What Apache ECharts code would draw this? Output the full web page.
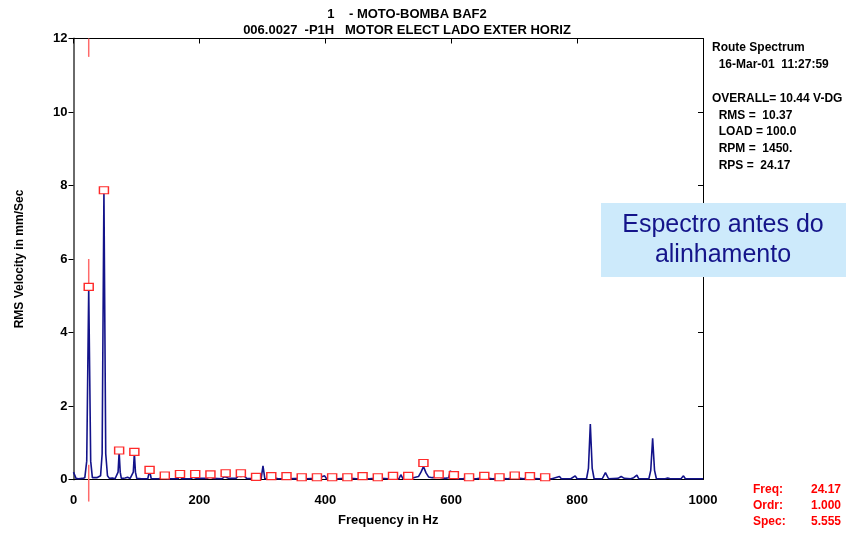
<!DOCTYPE html>
<html>
<head>
<meta charset="utf-8">
<script src="https://cdn.jsdelivr.net/npm/echarts@6/dist/echarts.min.js"></script>
<style>
  html, body { margin: 0; padding: 0; background: #fff; }
  #spectrum { width: 859px; height: 533px; }
</style>
</head>
<body>
<div id="spectrum"></div>
<script>
// espectro [Hz, mm/s]
var spectrum = [
    [0, 0.2], [2, 0.22], [4, 0.03], [8, 0.02], [14, 0.03], [18, 0.05],
    [21, 0.5], [24.17, 5.2], [27.3, 0.5], [30, 0.05],
    [33, 0.08], [37, 0.05], [40, 0.1], [43, 0.1],
    [45.5, 0.7], [48.34, 7.85], [51.2, 0.7], [54, 0.1], [57, 0.03],
    [62, 0.04], [66, 0.02], [69, 0.03], [70.8, 0.2], [72.51, 0.75], [74.2, 0.2], [76, 0.03],
    [82, 0.04], [86, 0.06], [90, 0.03], [93, 0.03], [95, 0.2], [96.68, 0.72], [98.4, 0.2], [100.5, 0.03],
    [108, 0.02], [114, 0.02], [118, 0.02], [120.85, 0.25], [123.5, 0.02],
    [135, 0.02], [145, 0.06], [150, 0.02], [166, 0.02], [169, 0.1], [172, 0.02],
    [186, 0.02], [190, 0.06], [193, 0.1], [196, 0.03], [212, 0.03], [217, 0.08], [222, 0.03],
    [236, 0.02], [240, 0.08], [243, 0.1], [247, 0.03], [258, 0.03], [262, 0.1], [266, 0.08],
    [270, 0.12], [275, 0.03], [288, 0.02], [290, 0.05], [293, 0.02], [298, 0.02], [301, 0.37],
    [304, 0.02], [314, 0.02], [320, 0.04], [325, 0.02], [340, 0.02], [362, 0.03], [370, 0.02],
    [386, 0.03], [399, 0.1], [402, 0.02], [420, 0.02], [435, 0.04], [450, 0.02], [470, 0.02],
    [483, 0.04], [500, 0.02], [507, 0.03], [517, 0.02], [520, 0.13], [523, 0.03], [532, 0.03],
    [540, 0.05], [548, 0.08], [552, 0.2], [556, 0.35], [560, 0.18], [564, 0.07], [570, 0.05],
    [580, 0.07], [590, 0.03], [596, 0.05], [598.7, 0.24], [601, 0.05], [604, 0.08], [610, 0.02],
    [620, 0.02], [624, 0.1], [627, 0.02], [640, 0.02], [652, 0.05], [665, 0.02], [677, 0.03],
    [690, 0.02], [701, 0.05], [715, 0.02], [719, 0.04], [722, 0.15], [725, 0.03], [740, 0.02],
    [760, 0.02], [772, 0.08], [775, 0.02], [790, 0.02], [797, 0.1], [800, 0.02], [815, 0.02],
    [818, 0.3], [821, 1.51], [824, 0.3], [827, 0.02], [840, 0.02], [845, 0.19], [850, 0.02],
    [865, 0.03], [870, 0.08], [875, 0.03], [885, 0.02], [890, 0.05], [895, 0.12], [898, 0.02],
    [914, 0.02], [917, 0.25], [920, 1.12], [923, 0.25], [926, 0.02], [940, 0.02], [944, 0.04],
    [948, 0.02], [965, 0.02], [969, 0.1], [972, 0.02], [990, 0.02], [1000, 0.02]
];

// harmonicos de 1x RPM (24.17 Hz)
var harmFreq = [24.17, 48.34, 72.51, 96.68, 120.85, 145.02, 169.19, 193.36, 217.53, 241.7,
    265.87, 290.04, 314.21, 338.38, 362.55, 386.72, 410.89, 435.06, 459.23, 483.4,
    507.57, 531.74, 555.91, 580.08, 604.25, 628.42, 652.59, 676.76, 700.93, 725.1, 749.27];
var harmAmp = [5.24, 7.87, 0.79, 0.75, 0.26, 0.11, 0.15, 0.15, 0.14, 0.17,
    0.17, 0.07, 0.09, 0.09, 0.06, 0.06, 0.06, 0.06, 0.09, 0.06,
    0.1, 0.1, 0.45, 0.14, 0.12, 0.06, 0.1, 0.06, 0.11, 0.09, 0.06];

// cursor (Freq 24.17)
var cursorFreq = 24.17;
var cursorTop = [12, 11.5];
var cursorMid = [6, 5.24];
var cursorLow = [0.4, -0.6];

var titleLines = ['1    - MOTO-BOMBA BAF2', '006.0027  -P1H   MOTOR ELECT LADO EXTER HORIZ'];
var infoLines = ['Route Spectrum', '  16-Mar-01  11:27:59', '', 'OVERALL= 10.44 V-DG',
    '  RMS =  10.37', '  LOAD = 100.0', '  RPM =  1450.', '  RPS =  24.17'];
var cursorLabels = ['Freq:', 'Ordr:', 'Spec:'];
var cursorValues = ['24.17', '1.000', '5.555'];

var dom = document.getElementById('spectrum');
var chart = echarts.init(dom);

var font = '"Liberation Sans", Arial, sans-serif';
var harmData = [];
for (var i = 0; i < harmFreq.length; i++) {
    harmData.push([harmFreq[i], harmAmp[i]]);
}

var graphics = [];
// titulo
titleLines.forEach(function (t, k) {
    graphics.push({
        type: 'text',
        style: { text: t, x: 407, y: 14 + k * 16, font: 'bold 13px ' + font, fill: '#000',
            textAlign: 'center', textVerticalAlign: 'middle', align: 'center', verticalAlign: 'middle' }
    });
});
// info do lado direito
infoLines.forEach(function (t, k) {
    if (!t) return;
    graphics.push({
        type: 'text',
        style: { text: t, x: 712, y: 48 + k * 16.8, font: 'bold 12px ' + font, fill: '#000',
            textVerticalAlign: 'middle', verticalAlign: 'middle' }
    });
});
// cursor em vermelho
cursorLabels.forEach(function (t, k) {
    graphics.push({
        type: 'text',
        style: { text: t, x: 753, y: 490 + k * 16, font: 'bold 12px ' + font, fill: '#ff0000',
            textVerticalAlign: 'middle', verticalAlign: 'middle' }
    });
    graphics.push({
        type: 'text',
        style: { text: cursorValues[k], x: 841, y: 490 + k * 16, font: 'bold 12px ' + font, fill: '#ff0000',
            textAlign: 'right', align: 'right', textVerticalAlign: 'middle', verticalAlign: 'middle' }
    });
});
// caixa de nota
graphics.push({
    type: 'rect', z: 100,
    shape: { x: 601, y: 203, width: 245, height: 74 },
    style: { fill: '#cdeafb' }
});
graphics.push({
    type: 'text', z: 101,
    style: { text: 'Espectro antes do\nalinhamento', x: 723, y: 240, font: '25px ' + font, fill: '#14148a',
        lineHeight: 30, textAlign: 'center', align: 'center', textVerticalAlign: 'middle', verticalAlign: 'middle' }
});

var option = {
    animation: false,
    backgroundColor: '#fff',
    grid: { left: 73.5, right: 156, top: 38.5, bottom: 53.5 },
    xAxis: [{
        type: 'value', min: 0, max: 1000, interval: 200,
        name: 'Frequency in Hz', nameLocation: 'middle', nameGap: 34,
        nameTextStyle: { fontFamily: font, fontWeight: 'bold', fontSize: 13, color: '#000' },
        axisLine: { onZero: false, lineStyle: { color: '#000', width: 1 } },
        axisTick: { show: false },
        axisLabel: { margin: 14, fontFamily: font, fontWeight: 'bold', fontSize: 13, color: '#000',
            formatter: function (v) { return String(v); } },
        splitLine: { show: false }
    }, {
        type: 'value', min: 0, max: 1000, interval: 200, position: 'top',
        axisLine: { show: true, onZero: false, lineStyle: { color: '#000', width: 1 } },
        axisTick: { show: true, inside: true, length: 5, lineStyle: { color: '#000' } },
        axisLabel: { show: false },
        splitLine: { show: false }
    }],
    yAxis: [{
        type: 'value', min: 0, max: 12, interval: 2,
        name: 'RMS Velocity in mm/Sec', nameLocation: 'middle', nameGap: 48, nameRotate: 90,
        nameTextStyle: { fontFamily: font, fontWeight: 'bold', fontSize: 12, color: '#000' },
        axisLine: { show: true, onZero: false, lineStyle: { color: '#6a6a6a', width: 2 } },
        axisTick: { show: true, length: 5, lineStyle: { color: '#000' } },
        axisLabel: { margin: 6, fontFamily: font, fontWeight: 'bold', fontSize: 13, color: '#000' },
        splitLine: { show: false }
    }, {
        type: 'value', min: 0, max: 12, interval: 2, position: 'right',
        axisLine: { show: true, onZero: false, lineStyle: { color: '#000', width: 1 } },
        axisTick: { show: true, inside: true, length: 5, lineStyle: { color: '#000' } },
        axisLabel: { show: false },
        splitLine: { show: false }
    }],
    series: [{
        name: 'spectrum',
        type: 'line',
        data: spectrum,
        showSymbol: false,
        symbol: 'none',
        lineStyle: { color: '#13138a', width: 1.6 },
        z: 3
    }, {
        name: 'harmonics',
        type: 'scatter',
        data: harmData,
        symbol: 'rect',
        symbolSize: [9, 7],
        itemStyle: { color: '#fff', borderColor: '#ff2a2a', borderWidth: 1.3, opacity: 1 },
        z: 5
    }, {
        name: 'cursorTop', type: 'line', clip: false, symbol: 'none',
        data: [[cursorFreq, cursorTop[0]], [cursorFreq, cursorTop[1]]],
        lineStyle: { color: '#ff6a6a', width: 1.5 }, z: 4
    }, {
        name: 'cursorMid', type: 'line', clip: false, symbol: 'none',
        data: [[cursorFreq, cursorMid[0]], [cursorFreq, cursorMid[1]]],
        lineStyle: { color: '#ff6a6a', width: 1.5 }, z: 4
    }, {
        name: 'cursorLow', type: 'line', clip: false, symbol: 'none',
        data: [[cursorFreq, cursorLow[0]], [cursorFreq, cursorLow[1]]],
        lineStyle: { color: '#ff6a6a', width: 1.5 }, z: 4
    }],
    graphic: graphics
};

chart.setOption(option);
</script>
</body>
</html>
